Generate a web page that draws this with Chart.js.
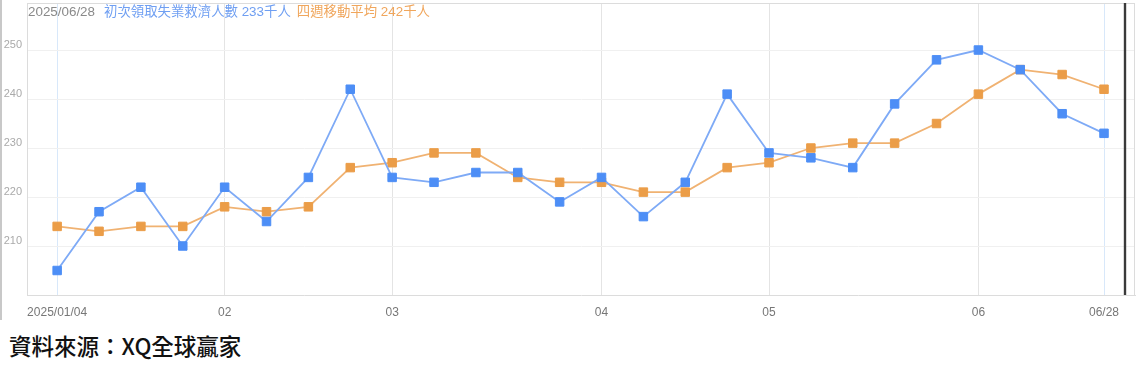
<!DOCTYPE html>
<html>
<head>
<meta charset="utf-8">
<script src="https://cdn.jsdelivr.net/npm/chart.js@4.4.1/dist/chart.umd.min.js"></script>
<style>
  body { margin: 0; background: #fff; }
  #wrap { position: relative; width: 1138px; height: 371px; }
  #edge { position: absolute; left: 0; top: 0; width: 2px; height: 320px; background: #c8c8c8; }
  #src { position: absolute; left: 9px; top: 331px; font: 500 22.5px "Noto Sans CJK TC", sans-serif; color: #111; line-height: 28px; }
</style>
</head>
<body>
<div id="wrap">
  <canvas id="myChart" width="1138" height="322"></canvas>
  <div id="edge"></div>
  <div id="src">資料來源：XQ全球贏家</div>
</div>
<script>
// weekly dates 2025
const weeks = ["01/04", "01/11", "01/18", "01/25", "02/01", "02/08", "02/15", "02/22", "03/01",
  "03/08", "03/15", "03/22", "03/29", "04/05", "04/12", "04/19", "04/26", "05/03", "05/10",
  "05/17", "05/24", "05/31", "06/07", "06/14", "06/21", "06/28"];
// 初次領取失業救濟人數 (千人)
const claims = [205, 217, 222, 210, 222, 215, 224, 242, 224, 223, 225, 225, 219, 224, 216, 223,
  241, 229, 228, 226, 239, 248, 250, 246, 237, 233];
// 四週移動平均 (千人)
const avg4w = [214, 213, 214, 214, 218, 217, 218, 226, 227, 229, 229, 224, 223, 223, 221, 221,
  226, 227, 230, 231, 231, 235, 241, 246, 245, 242];
// x tick positions (week index) and their labels
const tickIdx = [0, 4, 8, 13, 17, 22, 25];
const tickText = ["2025/01/04", "02", "03", "04", "05", "06", "06/28"];
const yTicks = [210, 220, 230, 240, 250];

const blue = "#4d8ef6";
const orange = "#eb9d48";

function noPad(s) {
  s.paddingTop = 0;
  s.paddingBottom = 0;
  s.paddingLeft = 0;
  s.paddingRight = 0;
}

const framePlugin = {
  id: "frame",
  afterDraw(chart) {
    const { ctx, chartArea: a, scales } = chart;
    ctx.save();
    ctx.strokeStyle = "#dcdcdc";
    ctx.lineWidth = 1;
    ctx.beginPath();
    ctx.moveTo(a.left, a.top + 0.5);
    ctx.lineTo(a.right, a.top + 0.5);
    ctx.moveTo(a.right - 0.5, a.top);
    ctx.lineTo(a.right - 0.5, a.bottom);
    ctx.stroke();

    // cursor line after the last week
    const cx = Math.round(scales.x.getPixelForValue(weeks.length - 0.5));
    ctx.strokeStyle = "rgba(0,0,0,0.15)";
    ctx.lineWidth = 4;
    ctx.beginPath();
    ctx.moveTo(cx, a.top);
    ctx.lineTo(cx, a.bottom);
    ctx.stroke();
    ctx.strokeStyle = "#3a3a3a";
    ctx.lineWidth = 2;
    ctx.beginPath();
    ctx.moveTo(cx, a.top);
    ctx.lineTo(cx, a.bottom);
    ctx.stroke();

    // header text
    const n = weeks.length - 1;
    const parts = [
      ["2025/" + weeks[n], "#8a8a8a", 9],
      ["初次領取失業救濟人數 " + claims[n] + "千人", "#6f9ff2", 6],
      ["四週移動平均 " + avg4w[n] + "千人", "#f0a65c", 0]
    ];
    ctx.font = '13.4px "Liberation Sans", "Noto Sans CJK TC", sans-serif';
    ctx.textBaseline = "middle";
    let x = a.left + 1;
    parts.forEach(([t, c, gap]) => {
      ctx.fillStyle = c;
      ctx.fillText(t, x, 12);
      x += ctx.measureText(t).width + gap;
    });
    ctx.restore();
  }
};

new Chart(document.getElementById("myChart").getContext("2d"), {
  type: "line",
  data: {
    datasets: [
      {
        label: "初次領取失業救濟人數",
        data: claims.map((v, i) => ({ x: i, y: v })),
        borderColor: "#7eaaf6",
        backgroundColor: blue,
        pointBackgroundColor: blue,
        pointBorderColor: blue,
        borderWidth: 1.8,
        pointStyle: "rect",
        pointRadius: 6,
        pointBorderWidth: 1
      },
      {
        label: "四週移動平均",
        data: avg4w.map((v, i) => ({ x: i, y: v })),
        borderColor: "#f0b272",
        backgroundColor: orange,
        pointBackgroundColor: orange,
        pointBorderColor: orange,
        borderWidth: 1.8,
        pointStyle: "rect",
        pointRadius: 6,
        pointBorderWidth: 1
      }
    ]
  },
  plugins: [framePlugin],
  options: {
    responsive: false,
    animation: false,
    layout: { autoPadding: false, padding: { left: 2, top: 3, right: 3, bottom: 0 } },
    plugins: { legend: { display: false }, tooltip: { enabled: false } },
    scales: {
      x: {
        type: "linear",
        min: -0.72,
        max: weeks.length - 0.26,
        afterBuildTicks: (s) => { s.ticks = tickIdx.map((v) => ({ value: v })); },
        afterFit: (s) => { s.height = 27; noPad(s); },
        ticks: {
          callback: (v) => tickText[tickIdx.indexOf(v)],
          color: "#777",
          font: { family: '"Liberation Sans", sans-serif', size: 12 },
          padding: 10,
          maxRotation: 0,
          autoSkip: false
        },
        grid: {
          drawTicks: false,
          color: (c) => (c.tick && (c.tick.value === 0 || c.tick.value === weeks.length - 1))
            ? "rgba(200,222,248,0.7)" : "#e4e4e4"
        },
        border: { color: "#dcdcdc" }
      },
      y: {
        min: 200,
        max: 259.6,
        afterBuildTicks: (s) => { s.ticks = yTicks.map((v) => ({ value: v })); },
        afterFit: (s) => { s.width = 25; noPad(s); },
        ticks: {
          color: "#aaa",
          font: { family: '"Liberation Sans", sans-serif', size: 11 },
          padding: 5,
          labelOffset: -5
        },
        grid: { drawTicks: false, color: "#f0f0f0" },
        border: { color: "#dcdcdc" }
      }
    }
  }
});
</script>
</body>
</html>
